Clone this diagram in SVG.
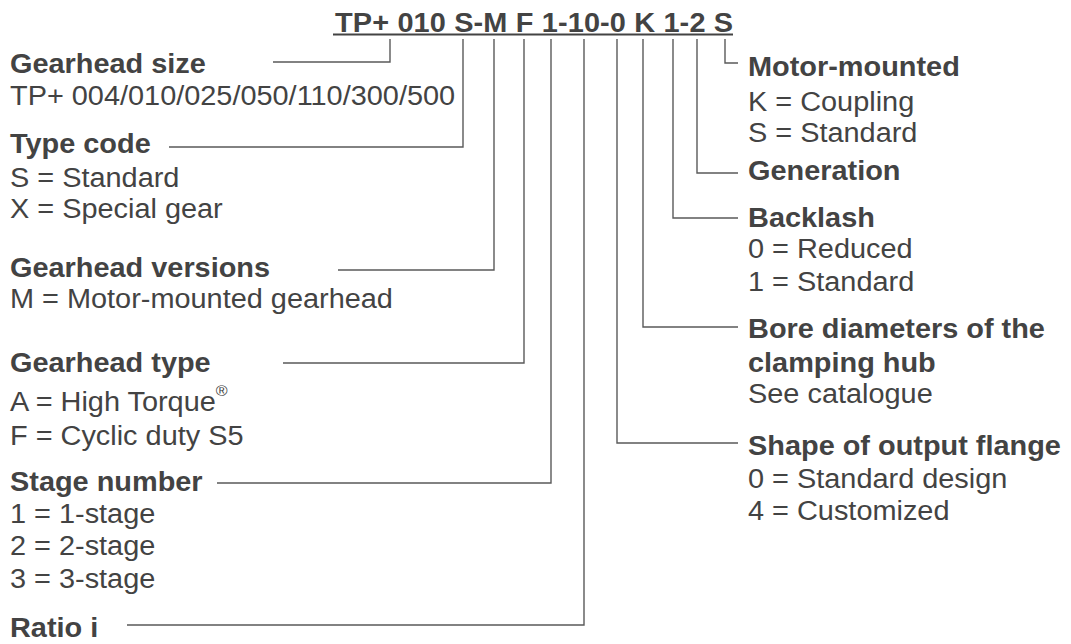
<svg xmlns="http://www.w3.org/2000/svg" width="1071" height="644" viewBox="0 0 1071 644">
<style>
text{font-family:"Liberation Sans",Arial,Helvetica,sans-serif;font-size:27px;fill:#434343}
.h{font-weight:bold}
.c{fill:none;stroke:#5a5a5a;stroke-width:1.4}
</style>
<rect width="1071" height="644" fill="#fff"/>
<g id="title" transform="scale(1.07 1)">
<text class="h" x="313.1" y="32" textLength="372" lengthAdjust="spacing">TP+ 010 S-M F 1-10-0 K 1-2 S</text>
</g>
<line x1="333" y1="34.5" x2="733" y2="34.5" stroke="#434343" stroke-width="2"/>
<g id="connectors">
<path class="c" d="M390,39V62H273"/>
<path class="c" d="M463,39V147H169"/>
<path class="c" d="M494,39V270H338"/>
<path class="c" d="M524,39V363H283"/>
<path class="c" d="M551,39V483H217"/>
<path class="c" d="M584,39V625H127"/>
<path class="c" d="M617,39V443H738"/>
<path class="c" d="M643,39V327H738"/>
<path class="c" d="M673,39V218H738"/>
<path class="c" d="M697,39V173H738"/>
<path class="c" d="M725,39V63H738"/>
</g>
<g id="gearhead-size" transform="scale(1.07 1)">
<text class="h" x="9.35" y="73">Gearhead size</text>
<text x="9.35" y="105">TP+ 004/010/025/050/110/300/500</text>
</g>
<g id="type-code" transform="scale(1.07 1)">
<text class="h" x="9.35" y="153">Type code</text>
<text x="9.35" y="187">S = Standard</text>
<text x="9.35" y="218">X = Special gear</text>
</g>
<g id="gearhead-versions" transform="scale(1.07 1)">
<text class="h" x="9.35" y="277">Gearhead versions</text>
<text x="9.35" y="308">M = Motor-mounted gearhead</text>
</g>
<g id="gearhead-type" transform="scale(1.07 1)">
<text class="h" x="9.35" y="372">Gearhead type</text>
<text x="9.35" y="411">A = High Torque<tspan font-size="15" dy="-15">®</tspan></text>
<text x="9.35" y="445">F = Cyclic duty S5</text>
</g>
<g id="stage-number" transform="scale(1.07 1)">
<text class="h" x="9.35" y="491">Stage number</text>
<text x="9.35" y="523">1 = 1-stage</text>
<text x="9.35" y="555">2 = 2-stage</text>
<text x="9.35" y="588">3 = 3-stage</text>
</g>
<g id="ratio" transform="scale(1.07 1)">
<text class="h" x="9.35" y="637">Ratio i</text>
</g>
<g id="motor-mounted" transform="scale(1.07 1)">
<text class="h" x="699.1" y="76">Motor-mounted</text>
<text x="699.1" y="111">K = Coupling</text>
<text x="699.1" y="142">S = Standard</text>
</g>
<g id="generation" transform="scale(1.07 1)">
<text class="h" x="699.1" y="180">Generation</text>
</g>
<g id="backlash" transform="scale(1.07 1)">
<text class="h" x="699.1" y="227">Backlash</text>
<text x="699.1" y="258">0 = Reduced</text>
<text x="699.1" y="291">1 = Standard</text>
</g>
<g id="bore-diameters" transform="scale(1.07 1)">
<text class="h" x="699.1" y="338">Bore diameters of the</text>
<text class="h" x="699.1" y="372">clamping hub</text>
<text x="699.1" y="403">See catalogue</text>
</g>
<g id="output-flange" transform="scale(1.07 1)">
<text class="h" x="699.1" y="455">Shape of output flange</text>
<text x="699.1" y="488">0 = Standard design</text>
<text x="699.1" y="520">4 = Customized</text>
</g>
</svg>
